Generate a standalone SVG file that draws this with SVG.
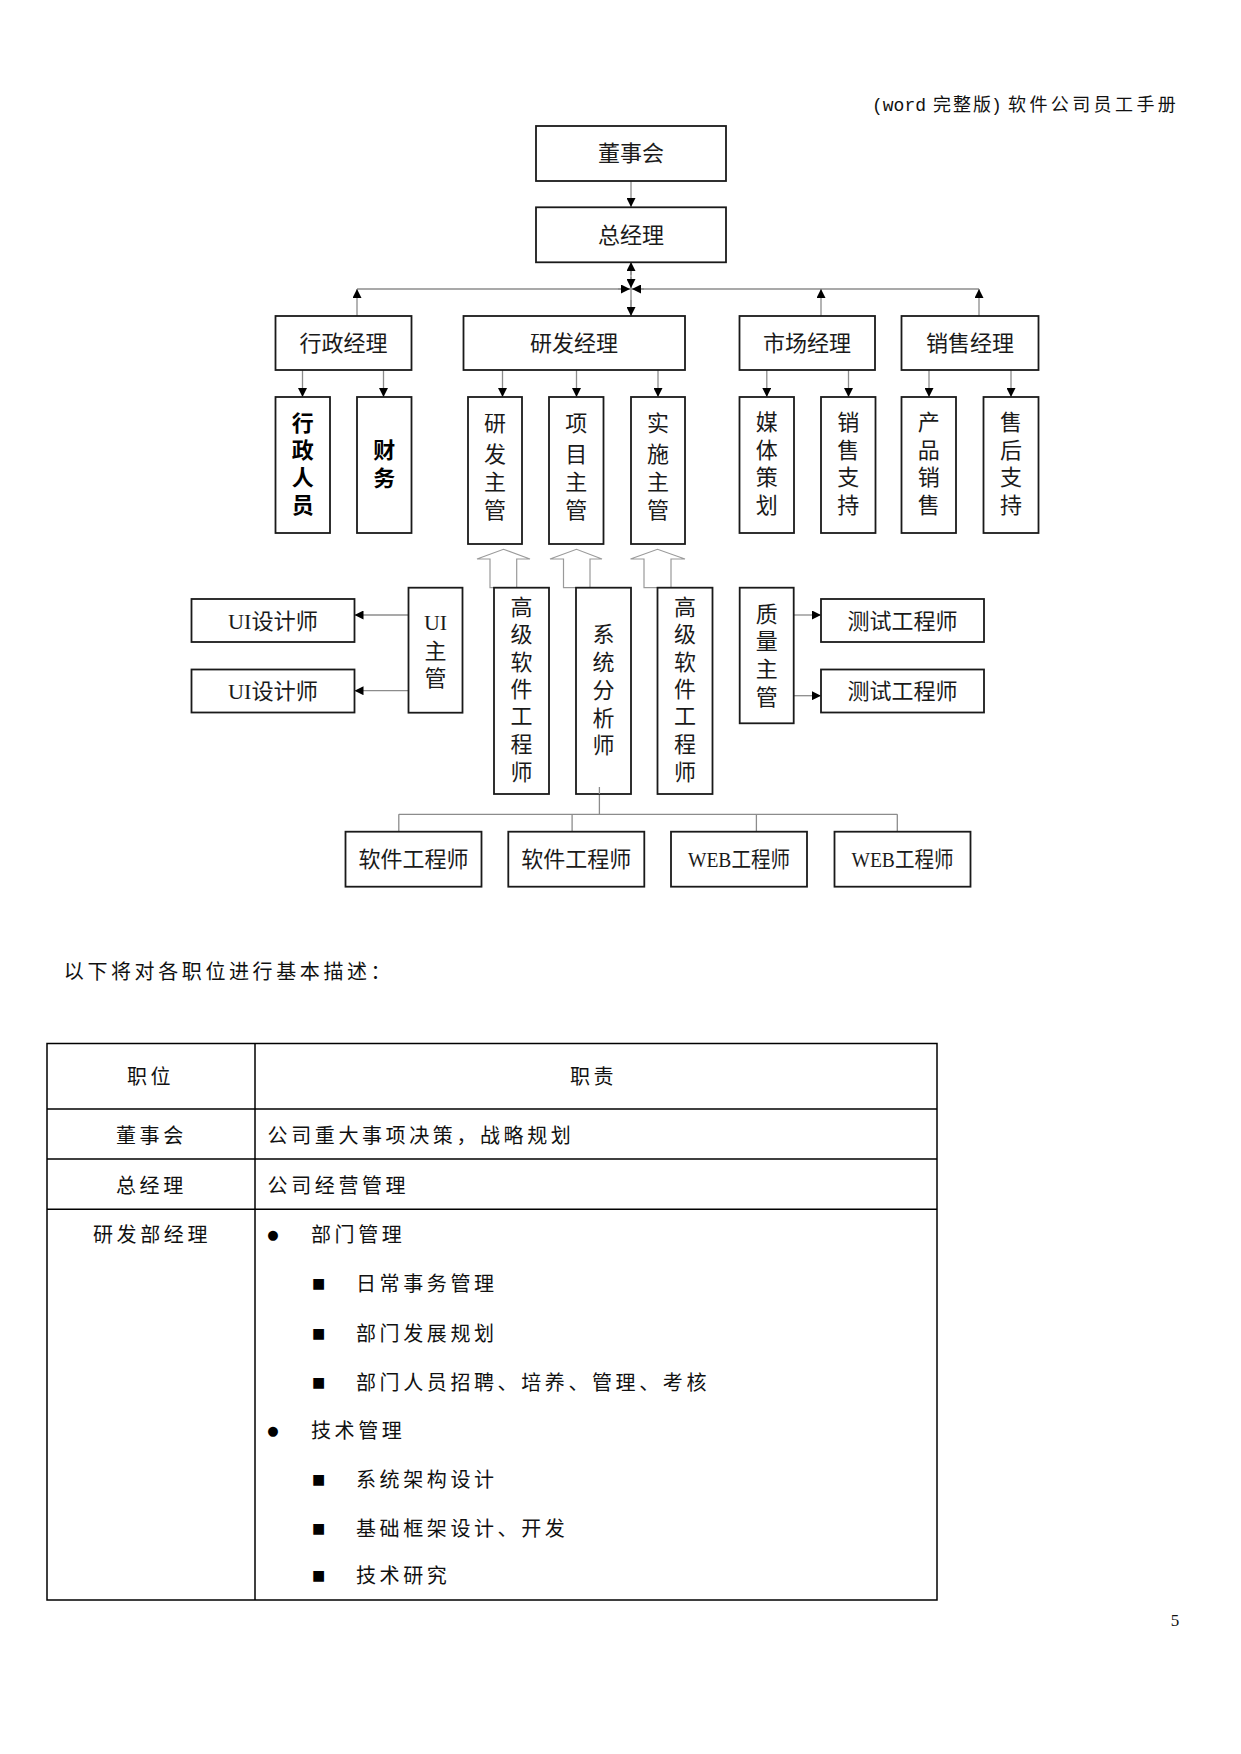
<svg xmlns="http://www.w3.org/2000/svg" width="1241" height="1754" viewBox="0 0 1241 1754">
<defs>
<style>
.box{fill:#fff;stroke:#1a1a1a;stroke-width:1.8}
.conn{stroke:#8c8c8c;stroke-width:1.3;fill:none}
.hol{stroke:#9a9a9a;stroke-width:1.2;fill:#fff}
.t{font-family:"Liberation Serif","Noto Sans CJK SC",serif;font-size:22px;fill:#1a1a1a;text-anchor:middle}
.b{font-weight:bold;fill:#000}
.tb{font-family:"Liberation Serif","Noto Sans CJK SC",serif;font-size:20px;fill:#111;letter-spacing:3.6px}
.hd{font-family:"Liberation Mono","Noto Sans CJK SC",monospace;font-size:18px;fill:#111}
.bul{font-family:"DejaVu Sans",sans-serif;fill:#000;text-anchor:middle}
.grid{stroke:#000;stroke-width:1.5;fill:none}
</style>
<marker id="ah" viewBox="0 0 10 10" refX="10" refY="5" markerUnits="userSpaceOnUse" markerWidth="10" markerHeight="9" orient="auto">
<path d="M0,0 L10,5 L0,10 z" fill="#000"/>
</marker>
</defs>
<rect width="1241" height="1754" fill="#fff"/>

<text class="hd" y="111"><tspan x="872">(word</tspan><tspan x="933" letter-spacing="2">完整版</tspan><tspan x="991">)</tspan><tspan x="1008" letter-spacing="3.4">软件公司员工手册</tspan></text>

<g id="connectors">
<line class="conn" x1="357" y1="289" x2="979" y2="289" stroke="#aaa"/>
<line class="conn" x1="631" y1="262" x2="631" y2="316"/>
<line class="conn" x1="631" y1="181" x2="631" y2="207" marker-end="url(#ah)"/>
<line class="conn" x1="631" y1="275" x2="631" y2="262" marker-end="url(#ah)"/>
<line class="conn" x1="631" y1="277" x2="631" y2="288" marker-end="url(#ah)"/>
<line class="conn" x1="618" y1="289" x2="630" y2="289" marker-end="url(#ah)"/>
<line class="conn" x1="644" y1="289" x2="632" y2="289" marker-end="url(#ah)"/>
<line class="conn" x1="631" y1="300" x2="631" y2="316" marker-end="url(#ah)"/>
<line class="conn" x1="357" y1="316" x2="357" y2="289" marker-end="url(#ah)"/>
<line class="conn" x1="821" y1="316" x2="821" y2="289" marker-end="url(#ah)"/>
<line class="conn" x1="979" y1="316" x2="979" y2="289" marker-end="url(#ah)"/>

<line class="conn" x1="302.5" y1="370" x2="302.5" y2="397" marker-end="url(#ah)"/>
<line class="conn" x1="383.5" y1="370" x2="383.5" y2="397" marker-end="url(#ah)"/>
<line class="conn" x1="502.5" y1="370" x2="502.5" y2="397" marker-end="url(#ah)"/>
<line class="conn" x1="576.5" y1="370" x2="576.5" y2="397" marker-end="url(#ah)"/>
<line class="conn" x1="658" y1="370" x2="658" y2="397" marker-end="url(#ah)"/>
<line class="conn" x1="766.8" y1="370" x2="766.8" y2="397" marker-end="url(#ah)"/>
<line class="conn" x1="848.5" y1="370" x2="848.5" y2="397" marker-end="url(#ah)"/>
<line class="conn" x1="929" y1="370" x2="929" y2="397" marker-end="url(#ah)"/>
<line class="conn" x1="1011" y1="370" x2="1011" y2="397" marker-end="url(#ah)"/>

<polygon class="hol" points="490,587.7 490,559 477,559 503.5,549.3 530,559 516.7,559 516.7,587.7"/>
<polygon class="hol" points="563.5,587.7 563.5,559 550,559 576.5,549.3 602,559 590,559 590,587.7"/>
<polygon class="hol" points="644,587.7 644,559 630.5,559 657.5,549.3 685,559 671,559 671,587.7"/>

<line class="conn" x1="408.5" y1="615" x2="354.5" y2="615" marker-end="url(#ah)"/>
<line class="conn" x1="408.5" y1="690.7" x2="354.5" y2="690.7" marker-end="url(#ah)"/>
<line class="conn" x1="793.7" y1="615" x2="821" y2="615" marker-end="url(#ah)"/>
<line class="conn" x1="793.7" y1="695.7" x2="821" y2="695.7" marker-end="url(#ah)"/>

<line class="conn" x1="599.4" y1="794" x2="599.4" y2="814.3" stroke="#b0b0b0" stroke-width="2.6"/>
<line class="conn" x1="398.8" y1="814.3" x2="897.3" y2="814.3" stroke="#777"/>
<line class="conn" x1="398.8" y1="814.3" x2="398.8" y2="831.7"/>
<line class="conn" x1="572.1" y1="814.3" x2="572.1" y2="831.7"/>
<line class="conn" x1="756.4" y1="814.3" x2="756.4" y2="831.7"/>
<line class="conn" x1="897.3" y1="814.3" x2="897.3" y2="831.7"/>
</g>

<g id="n-dongshihui"><rect class="box" x="536" y="126" width="190" height="55"/><text class="t" x="631" y="161">董事会</text></g>
<g id="n-zongjingli"><rect class="box" x="536" y="207.3" width="190" height="55"/><text class="t" x="631" y="243">总经理</text></g>

<g id="n-xingzhengjingli"><rect class="box" x="275.5" y="316" width="136" height="54"/><text class="t" x="343.5" y="351">行政经理</text></g>
<g id="n-yanfajingli"><rect class="box" x="463.5" y="316" width="221.5" height="54"/><text class="t" x="574" y="351">研发经理</text></g>
<g id="n-shichangjingli"><rect class="box" x="739.5" y="316" width="135.5" height="54"/><text class="t" x="807" y="351">市场经理</text></g>
<g id="n-xiaoshoujingli"><rect class="box" x="901.5" y="316" width="137" height="54"/><text class="t" x="970" y="351">销售经理</text></g>

<g id="n-xingzhengrenyuan"><rect class="box" x="275.5" y="397" width="54.5" height="136"/><text class="t b"><tspan x="302.7" y="430.5">行</tspan><tspan x="302.7" y="457.5">政</tspan><tspan x="302.7" y="485">人</tspan><tspan x="302.7" y="513">员</tspan></text></g>
<g id="n-caiwu"><rect class="box" x="357" y="397" width="54.5" height="136"/><text class="t b"><tspan x="384.2" y="457.5">财</tspan><tspan x="384.2" y="485.5">务</tspan></text></g>

<g id="n-yanfazhuguan"><rect class="box" x="468" y="397" width="54" height="147"/><text class="t"><tspan x="495" y="430.5">研</tspan><tspan x="495" y="462">发</tspan><tspan x="495" y="490">主</tspan><tspan x="495" y="518">管</tspan></text></g>
<g id="n-xiangmuzhuguan"><rect class="box" x="549" y="397" width="54.5" height="147"/><text class="t"><tspan x="576.2" y="430.5">项</tspan><tspan x="576.2" y="462">目</tspan><tspan x="576.2" y="490">主</tspan><tspan x="576.2" y="518">管</tspan></text></g>
<g id="n-shishizhuguan"><rect class="box" x="631" y="397" width="54" height="147"/><text class="t"><tspan x="658" y="430.5">实</tspan><tspan x="658" y="462">施</tspan><tspan x="658" y="490">主</tspan><tspan x="658" y="518">管</tspan></text></g>

<g id="n-meiticehua"><rect class="box" x="739.5" y="397" width="54.5" height="136"/><text class="t"><tspan x="766.7" y="430">媒</tspan><tspan x="766.7" y="457.5">体</tspan><tspan x="766.7" y="485">策</tspan><tspan x="766.7" y="513">划</tspan></text></g>
<g id="n-xiaoshouzhichi"><rect class="box" x="821" y="397" width="54.5" height="136"/><text class="t"><tspan x="848.2" y="430">销</tspan><tspan x="848.2" y="457.5">售</tspan><tspan x="848.2" y="485">支</tspan><tspan x="848.2" y="513">持</tspan></text></g>
<g id="n-chanpinxiaoshou"><rect class="box" x="901.5" y="397" width="54.5" height="136"/><text class="t"><tspan x="928.7" y="430">产</tspan><tspan x="928.7" y="457.5">品</tspan><tspan x="928.7" y="485">销</tspan><tspan x="928.7" y="513">售</tspan></text></g>
<g id="n-shouhouzhichi"><rect class="box" x="983.5" y="397" width="55" height="136"/><text class="t"><tspan x="1011" y="430">售</tspan><tspan x="1011" y="457.5">后</tspan><tspan x="1011" y="485">支</tspan><tspan x="1011" y="513">持</tspan></text></g>

<g id="n-ui1"><rect class="box" x="191.5" y="599" width="163" height="43"/><text class="t" x="273" y="628.5" textLength="90" lengthAdjust="spacingAndGlyphs">UI设计师</text></g>
<g id="n-ui2"><rect class="box" x="191.5" y="669.5" width="163" height="43"/><text class="t" x="273" y="699" textLength="90" lengthAdjust="spacingAndGlyphs">UI设计师</text></g>
<g id="n-uizhuguan"><rect class="box" x="408.5" y="587.7" width="54" height="125"/><text class="t"><tspan x="435.5" y="630">UI</tspan><tspan x="435.5" y="659">主</tspan><tspan x="435.5" y="685.5">管</tspan></text></g>

<g id="n-gaoji1"><rect class="box" x="494" y="587.7" width="55" height="206.3"/><text class="t"><tspan x="521.5" y="615">高</tspan><tspan x="521.5" y="642">级</tspan><tspan x="521.5" y="670">软</tspan><tspan x="521.5" y="696.5">件</tspan><tspan x="521.5" y="724">工</tspan><tspan x="521.5" y="751.5">程</tspan><tspan x="521.5" y="780">师</tspan></text></g>
<g id="n-xitongfenxishi"><rect class="box" x="576" y="587.7" width="55" height="206.3"/><text class="t"><tspan x="603.5" y="642">系</tspan><tspan x="603.5" y="670">统</tspan><tspan x="603.5" y="698">分</tspan><tspan x="603.5" y="725.5">析</tspan><tspan x="603.5" y="753">师</tspan></text></g>
<g id="n-gaoji2"><rect class="box" x="657.5" y="587.7" width="55" height="206.3"/><text class="t"><tspan x="685" y="615">高</tspan><tspan x="685" y="642">级</tspan><tspan x="685" y="670">软</tspan><tspan x="685" y="696.5">件</tspan><tspan x="685" y="724">工</tspan><tspan x="685" y="751.5">程</tspan><tspan x="685" y="780">师</tspan></text></g>
<line class="conn" x1="599.4" y1="787" x2="599.4" y2="794"/>

<g id="n-zhiliangzhuguan"><rect class="box" x="739.7" y="587.7" width="54" height="135.6"/><text class="t"><tspan x="766.7" y="621.5">质</tspan><tspan x="766.7" y="649">量</tspan><tspan x="766.7" y="677">主</tspan><tspan x="766.7" y="705">管</tspan></text></g>
<g id="n-ceshi1"><rect class="box" x="821" y="599" width="163" height="43"/><text class="t" x="902.5" y="628.5">测试工程师</text></g>
<g id="n-ceshi2"><rect class="box" x="821" y="669.5" width="163" height="43"/><text class="t" x="902.5" y="699">测试工程师</text></g>

<g id="n-ruanjian1"><rect class="box" x="345.5" y="831.7" width="136" height="55"/><text class="t" x="413.5" y="867">软件工程师</text></g>
<g id="n-ruanjian2"><rect class="box" x="508.3" y="831.7" width="136" height="55"/><text class="t" x="576.3" y="867">软件工程师</text></g>
<g id="n-web1"><rect class="box" x="671" y="831.7" width="136" height="55"/><text class="t" x="739" y="867" textLength="102" lengthAdjust="spacingAndGlyphs">WEB工程师</text></g>
<g id="n-web2"><rect class="box" x="834.5" y="831.7" width="136" height="55"/><text class="t" x="902.5" y="867" textLength="102" lengthAdjust="spacingAndGlyphs">WEB工程师</text></g>

<text class="tb" x="63.8" y="979" letter-spacing="2.6">以下将对各职位进行基本描述：</text>

<g id="table">
<rect class="grid" x="47" y="1043.5" width="890" height="556.5"/>
<line class="grid" x1="255" y1="1043.5" x2="255" y2="1600" stroke-width="2.2"/>
<line class="grid" x1="47" y1="1109" x2="937" y2="1109"/>
<line class="grid" x1="47" y1="1159" x2="937" y2="1159"/>
<line class="grid" x1="47" y1="1209.3" x2="937" y2="1209.3"/>
<text class="tb" x="127" y="1084">职位</text>
<text class="tb" x="570" y="1084">职责</text>
<text class="tb" x="116" y="1142.5">董事会</text>
<text class="tb" x="267.6" y="1142.5">公司重大事项决策，战略规划</text>
<text class="tb" x="116" y="1192.5">总经理</text>
<text class="tb" x="267.6" y="1192.5">公司经营管理</text>
<text class="tb" x="93" y="1241.5">研发部经理</text>
<text class="bul" x="272.8" y="1238.5" font-size="13">●</text>
<text class="tb" x="311" y="1241.5">部门管理</text>
<text class="bul" x="318.7" y="1288" font-size="14">■</text>
<text class="tb" x="356" y="1290.5">日常事务管理</text>
<text class="bul" x="318.7" y="1338" font-size="14">■</text>
<text class="tb" x="356" y="1340.5">部门发展规划</text>
<text class="bul" x="318.7" y="1387" font-size="14">■</text>
<text class="tb" x="356" y="1389.5">部门人员招聘、培养、管理、考核</text>
<text class="bul" x="272.8" y="1434.5" font-size="13">●</text>
<text class="tb" x="311" y="1437.5">技术管理</text>
<text class="bul" x="318.7" y="1484" font-size="14">■</text>
<text class="tb" x="356" y="1486.5">系统架构设计</text>
<text class="bul" x="318.7" y="1533" font-size="14">■</text>
<text class="tb" x="356" y="1535.5">基础框架设计、开发</text>
<text class="bul" x="318.7" y="1580" font-size="14">■</text>
<text class="tb" x="356" y="1582.5">技术研究</text>
</g>

<text x="1175" y="1626" font-family="Liberation Serif, serif" font-size="17" fill="#111" text-anchor="middle">5</text>
</svg>
